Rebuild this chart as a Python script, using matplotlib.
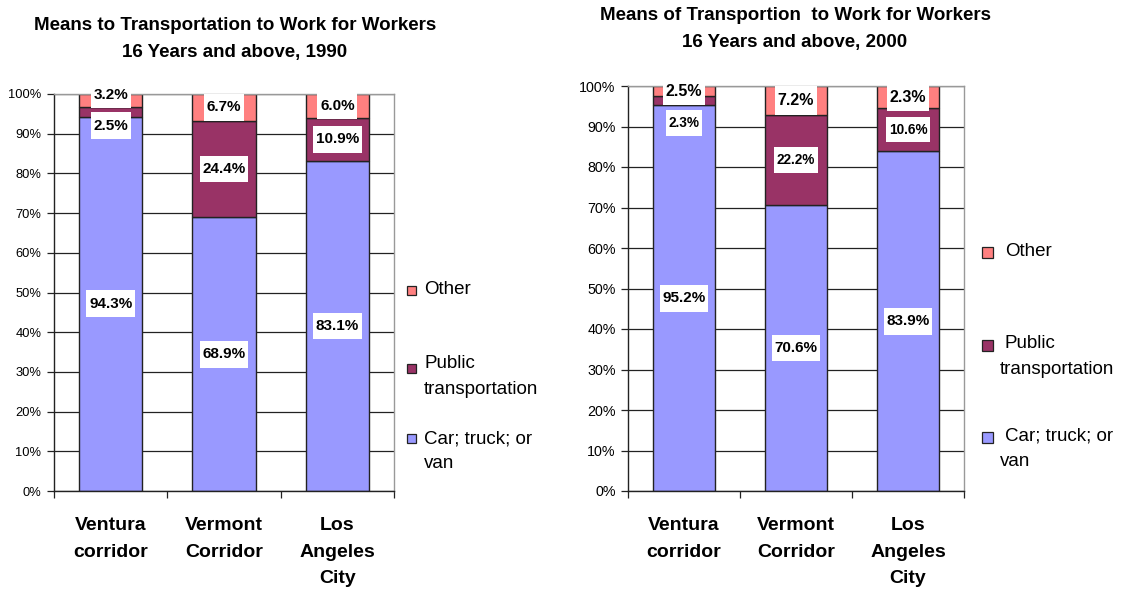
import matplotlib
matplotlib.use("Agg")
import matplotlib.pyplot as plt
from matplotlib.path import Path
from matplotlib.patches import Rectangle
from matplotlib.ticker import FixedLocator, PercentFormatter

plt.rcParams['font.family'] = ['Liberation Sans', 'DejaVu Sans']

categories = ["Ventura\ncorridor", "Vermont\nCorridor", "Los\nAngeles\nCity"]
series_names = ["Car; truck; or van", "Public transportation", "Other"]

car_1990 = [94.3, 68.9, 83.1]
public_1990 = [2.5, 24.4, 10.9]
other_1990 = [3.2, 6.7, 6.0]
other_1990_labels = ["3.2%", "6.7%", "6.0%"]

car_2000 = [95.2, 70.6, 83.9]
public_2000 = [2.3, 22.2, 10.6]
# drawn segment heights; the printed label of the
# Los Angeles "Other" segment says 2.3% while its bar fills the top ~5.5%
other_2000 = [2.5, 7.2, 5.5]
other_2000_labels = ["2.5%", "7.2%", "2.3%"]

title_1990 = ["Means to Transportation to Work for Workers", "16 Years and above, 1990"]
title_2000 = ["Means of Transportion  to Work for Workers", "16 Years and above, 2000"]

C_CAR = "#9999FF"
C_PUB = "#993366"
C_OTH = "#FF8080"

W, H = 1125, 593
fig = plt.figure(figsize=(W / 100, H / 100), dpi=100)


def fx(px):
    return px / W


def fy(py):
    return 1 - py / H


def label_box(x0, y0, width, height, mutation_size):
    px = 0.17 * mutation_size
    py = 0.42 * mutation_size
    x0, y0 = x0 - px, y0 - py
    x1, y1 = x0 + width + 2 * px, y0 + height + 2 * py
    return Path([(x0, y0), (x1, y0), (x1, y1), (x0, y1), (x0, y0)], closed=True)


def draw_chart(rect, car, pub, oth, oth_labels, small_fs, other_fs, ytick_fs, offsets):
    ax = fig.add_axes(rect)
    x = list(range(len(categories)))
    bw = 0.56
    bot2 = [a + b for a, b in zip(car, pub)]
    kw = dict(width=bw, edgecolor="#222222", linewidth=1.0, zorder=2)
    ax.bar(x, car, color=C_CAR, **kw)
    ax.bar(x, pub, bottom=car, color=C_PUB, **kw)
    ax.bar(x, oth, bottom=bot2, color=C_OTH, **kw)

    ax.set_xlim(-0.5, 2.5)
    ax.set_ylim(0, 100)
    ax.yaxis.set_major_locator(FixedLocator(range(0, 101, 10)))
    ax.yaxis.set_major_formatter(PercentFormatter(decimals=0))
    ax.grid(axis="y", color="#222222", linewidth=0.9, zorder=0)
    ax.set_axisbelow(True)
    ax.tick_params(axis="y", direction="out", length=5, width=0.9,
                   pad=4, labelsize=ytick_fs, color="#222222")
    ax.set_xticks(x)
    ax.set_xticklabels(categories, fontsize=14, fontweight="bold",
                       linespacing=1.72)
    ax.set_xticks([-0.5, 0.5, 1.5, 2.5], minor=True)
    ax.tick_params(axis="x", which="major", length=0, pad=19)
    ax.tick_params(axis="x", which="minor", direction="out", length=5,
                   width=0.9, color="#222222")
    for s in ("left", "bottom"):
        ax.spines[s].set_color("#222222")
        ax.spines[s].set_linewidth(1.0)
    for s in ("right", "top"):
        ax.spines[s].set_color("#999999")
        ax.spines[s].set_linewidth(1.0)

    box = dict(boxstyle=label_box, facecolor="white", edgecolor="none")
    for i in x:
        segs = [
            (car[i] / 2, f"{car[i]:.1f}%", 11, offsets.get(("car", i), 0)),
            (car[i] + pub[i] / 2, f"{pub[i]:.1f}%", small_fs, offsets.get(("pub", i), 0)),
            (bot2[i] + oth[i] / 2, oth_labels[i], other_fs, offsets.get(("oth", i), 0)),
        ]
        for ymid, txt, fs, off in segs:
            ax.annotate(txt, (i, ymid), xytext=(0, off),
                        textcoords="offset points", ha="center",
                        va="center", fontsize=fs, fontweight="bold",
                        bbox=box, zorder=5)
    return ax


# left chart
draw_chart([fx(54), fy(491), fx(394) - fx(54), fy(94) - fy(491)],
           car_1990, public_1990, other_1990, other_1990_labels, 11, 11, 9.3,
           {("pub", 0): -10, ("oth", 0): 4})
# right chart
draw_chart([fx(628), fy(491), fx(964) - fx(628), fy(86) - fy(491)],
           car_2000, public_2000, other_2000, other_2000_labels, 9.8, 11.5, 10.3,
           {("pub", 0): -16})

# titles
fig.text(fx(235), fy(25), title_1990[0], ha="center", va="center",
         fontsize=13.5, fontweight="bold")
fig.text(fx(235), fy(53), title_1990[1], ha="center", va="center",
         fontsize=13.5, fontweight="bold")
fig.text(fx(795), fy(15), title_2000[0], ha="center", va="center",
         fontsize=13.5, fontweight="bold")
fig.text(fx(795), fy(43), title_2000[1], ha="center", va="center",
         fontsize=13.5, fontweight="bold")


# legends (drawn manually to mimic the Excel layout)
def legend_item(sq_x, sq_y, sq, color, lines, text_x, line_y, first_x=None):
    fig.patches.append(Rectangle((fx(sq_x), fy(sq_y + sq / 2)), sq / W, sq / H,
                                 transform=fig.transFigure, facecolor=color,
                                 edgecolor="#222222", linewidth=0.9))
    for k, (txt, yy) in enumerate(zip(lines, line_y)):
        xx = first_x if (k == 0 and first_x is not None) else text_x
        fig.text(fx(xx), fy(yy), txt, ha="left", va="center", fontsize=13.5)


# left legend
legend_item(407, 290, 9, C_OTH, ["Other"], 424, [289])
legend_item(407, 368, 9, C_PUB, ["Public", "transportation"], 424, [364, 389])
legend_item(407, 438, 9, C_CAR, ["Car; truck; or", "van"], 424, [439, 464])

# right legend
legend_item(982, 252, 11, C_OTH, ["Other"], 1000, [252], first_x=1005)
legend_item(982, 345, 11, C_PUB, ["Public", "transportation"], 1000, [344, 370], first_x=1005)
legend_item(982, 437, 11, C_CAR, ["Car; truck; or", "van"], 1000, [436, 462], first_x=1005)

fig.savefig("out.png", dpi=100)
